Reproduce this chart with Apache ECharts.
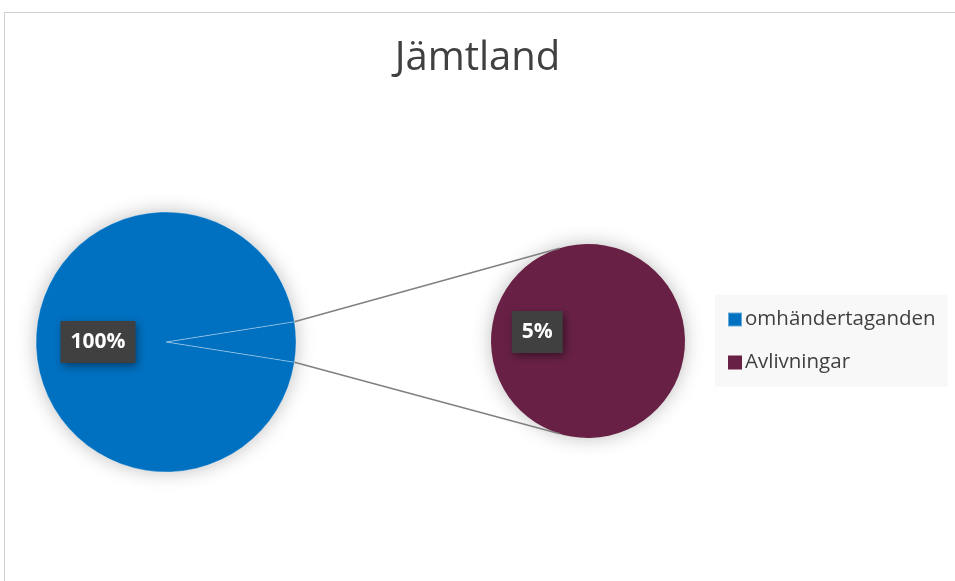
<!DOCTYPE html>
<html><head><meta charset="utf-8">
<script src="https://cdn.jsdelivr.net/npm/echarts@6/dist/echarts.min.js"></script>
<style>html,body{margin:0;padding:0;background:#fff}#c{width:955px;height:581px}</style>
</head><body><div id="c"></div>
<script>
const titleText = 'Jämtland';
const categories = ['omhändertaganden', 'Avlivningar'];
// main pie: share of omhändertaganden vs. split-off part (%)
const mainValues = [95, 5];
// second pie: Avlivningar
const secondValues = [5];
const dataLabels = ['100%', '5%'];
const colors = ['#0070C0', '#682145'];

const c1 = [166, 342], r1 = 130;
const c2 = [588, 341], r2 = 97;
const total = mainValues[0] + mainValues[1];
const halfWedge = mainValues[1] / total * 360 / 2; // degrees
const rad = Math.PI / 180;

const labelStyle = {
  show: true, position: 'inside', color: '#fff', fontWeight: 'bold', fontSize: 21,
  fontFamily: 'Open Sans, sans-serif', backgroundColor: '#404040', padding: [12, 10, 9, 10],
  shadowColor: 'rgba(0,0,0,0.45)', shadowBlur: 8, shadowOffsetX: 2, shadowOffsetY: 3
};

const chart = echarts.init(document.getElementById('c'));
const a1 = halfWedge * rad;
const p1t = [c1[0] + r1 * Math.cos(a1), c1[1] - r1 * Math.sin(a1)];
const p1b = [c1[0] + r1 * Math.cos(a1), c1[1] + r1 * Math.sin(a1)];
const a2 = 107 * rad;
const p2t = [c2[0] + r2 * Math.cos(a2), c2[1] - r2 * Math.sin(a2)];
const p2b = [c2[0] + r2 * Math.cos(a2), c2[1] + r2 * Math.sin(a2)];

const shadowStyle = { fill: '#fff', shadowColor: 'rgba(0,0,0,0.28)', shadowBlur: 20 };

chart.setOption({
  animation: false,
  title: {
    text: titleText, left: 'center', top: 34,
    textStyle: { fontFamily: 'Open Sans, sans-serif', fontSize: 40, fontWeight: 'normal', color: '#404040' }
  },
  legend: {
    data: categories, orient: 'vertical', left: 715, top: 295,
    backgroundColor: '#f8f8f8', padding: [14, 12, 14, 12], itemGap: 22,
    icon: 'rect', itemWidth: 14, itemHeight: 14,
    textStyle: { fontFamily: 'Open Sans, sans-serif', fontSize: 20.5, color: '#404040', padding: [0, 0, 0, -2] },
    selectedMode: false
  },
  graphic: [
    { type: 'rect', shape: { x: 4.5, y: 12.5, width: 1000, height: 1000 }, style: { fill: 'none', stroke: '#d0d0d0', lineWidth: 1 }, silent: true, z: -10 },
    { type: 'circle', shape: { cx: c1[0], cy: c1[1], r: r1 - 1 }, style: shadowStyle, silent: true, z: -5 },
    { type: 'circle', shape: { cx: c2[0], cy: c2[1], r: r2 - 1 }, style: shadowStyle, silent: true, z: -5 },
    { type: 'line', shape: { x1: p1t[0], y1: p1t[1], x2: p2t[0], y2: p2t[1] }, style: { stroke: '#808080', lineWidth: 1.5 }, z: 100 },
    { type: 'line', shape: { x1: p1b[0], y1: p1b[1], x2: p2b[0], y2: p2b[1] }, style: { stroke: '#808080', lineWidth: 1.5 }, z: 100 }
  ],
  series: [
    {
      type: 'pie', center: c1, radius: [0, r1], startAngle: halfWedge, clockwise: true,
      labelLine: { show: false }, emphasis: { disabled: true },
      itemStyle: { borderColor: 'rgba(255,255,255,0.4)', borderWidth: 0.8 },
      data: [
        { name: '', value: mainValues[1], itemStyle: { color: colors[0] }, label: { show: false } },
        { name: categories[0], value: mainValues[0], itemStyle: { color: colors[0] }, label: Object.assign({}, labelStyle, { formatter: dataLabels[0] }) }
      ]
    },
    {
      type: 'pie', center: c2, radius: [0, r2], startAngle: 350, clockwise: true,
      labelLine: { show: false }, emphasis: { disabled: true },
      itemStyle: { borderWidth: 0 },
      data: [
        { name: categories[1], value: secondValues[0], itemStyle: { color: colors[1] }, label: Object.assign({}, labelStyle, { formatter: dataLabels[1] }) }
      ]
    }
  ]
});
</script></body></html>
